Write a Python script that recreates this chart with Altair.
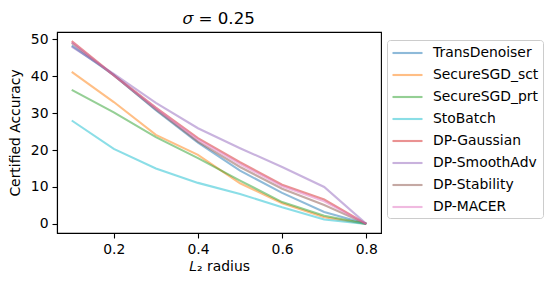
import altair as alt
import pandas as pd

radius = [0.1, 0.2, 0.3, 0.4, 0.5, 0.6, 0.7, 0.8]
methods = ["TransDenoiser", "SecureSGD_sct", "SecureSGD_prt", "StoBatch",
           "DP-Gaussian", "DP-SmoothAdv", "DP-Stability", "DP-MACER"]
colors = ["#1f77b4", "#ff7f0e", "#2ca02c", "#17becf",
          "#d62728", "#9467bd", "#8c564b", "#e377c2"]

trans_denoiser = [48.3, 40.3, 30.8, 22.0, 14.4, 8.4, 3.2, 0.0]
securesgd_sct = [41.2, 33.0, 24.1, 18.7, 11.0, 5.6, 1.8, 0.0]
securesgd_prt = [36.3, 30.2, 23.5, 17.8, 11.7, 5.9, 2.2, 0.0]
stobatch = [28.0, 20.3, 15.0, 11.1, 8.1, 4.5, 1.2, 0.0]
dp_gaussian = [49.5, 40.3, 31.5, 23.2, 16.7, 10.6, 6.6, 0.0]
dp_smoothadv = [48.0, 40.6, 32.8, 25.9, 20.5, 15.4, 10.0, 0.0]
dp_stability = [49.0, 40.2, 31.0, 22.3, 15.4, 9.5, 5.1, 0.0]
dp_macer = [49.2, 40.2, 31.3, 22.8, 16.2, 10.2, 6.1, 0.0]

series = [trans_denoiser, securesgd_sct, securesgd_prt, stobatch,
          dp_gaussian, dp_smoothadv, dp_stability, dp_macer]

rows = []
for order, (m, vals) in enumerate(zip(methods, series)):
    for r, v in zip(radius, vals):
        rows.append({"radius": r, "acc": v, "method": m, "order": order})
df = pd.DataFrame(rows)

FONT = "DejaVu Sans"

chart = alt.Chart(df).mark_line(strokeWidth=2.1, opacity=0.5).encode(
    x=alt.X("radius:Q",
            scale=alt.Scale(domain=[0.065, 0.835], nice=False, zero=False),
            axis=alt.Axis(values=[0.2, 0.4, 0.6, 0.8], format=".1f",
                          title="𝐿₂ radius", grid=False)),
    y=alt.Y("acc:Q",
            scale=alt.Scale(domain=[-2.475, 51.975], nice=False, zero=False),
            axis=alt.Axis(values=[0, 10, 20, 30, 40, 50],
                          title="Certified Accuracy", grid=False)),
    color=alt.Color("method:N",
                    scale=alt.Scale(domain=methods, range=colors),
                    legend=alt.Legend(title=None, orient="none",
                                      legendX=330, legendY=8,
                                      symbolType="M-1,0L3,0",
                                      symbolSize=225,
                                      symbolStrokeWidth=2.1,
                                      symbolOpacity=0.5,
                                      labelOffset=24,
                                      rowPadding=6,
                                      padding=4,
                                      labelFontSize=13.9,
                                      labelFont=FONT,
                                      labelColor="black",
                                      strokeColor="#cccccc",
                                      fillColor="white",
                                      cornerRadius=3)),
    detail="order:O",
    order="radius:Q",
).properties(
    width=324, height=201,
    title=alt.TitleParams("𝜎 = 0.25", font=FONT, fontSize=16.7,
                          fontWeight="normal", color="black", offset=4),
    padding={"left": 49, "top": 24, "right": 163, "bottom": 49},
    autosize=alt.AutoSizeParams(type="none"),
).configure_axis(
    labelFont=FONT, labelFontSize=13.9, labelColor="black",
    titleFont=FONT, titleFontSize=13.9, titleColor="black",
    titleFontWeight="normal",
    domainColor="black", domainWidth=1.1,
    tickColor="black", tickWidth=1.1, tickSize=5,
    labelPadding=4,
).configure_axisX(titlePadding=4).configure_axisY(titlePadding=8).configure_view(
    stroke="black", strokeWidth=1.1
).configure_legend(symbolStrokeColor=None)

chart.save("out.html", embed_options={"renderer": "svg", "actions": False})
